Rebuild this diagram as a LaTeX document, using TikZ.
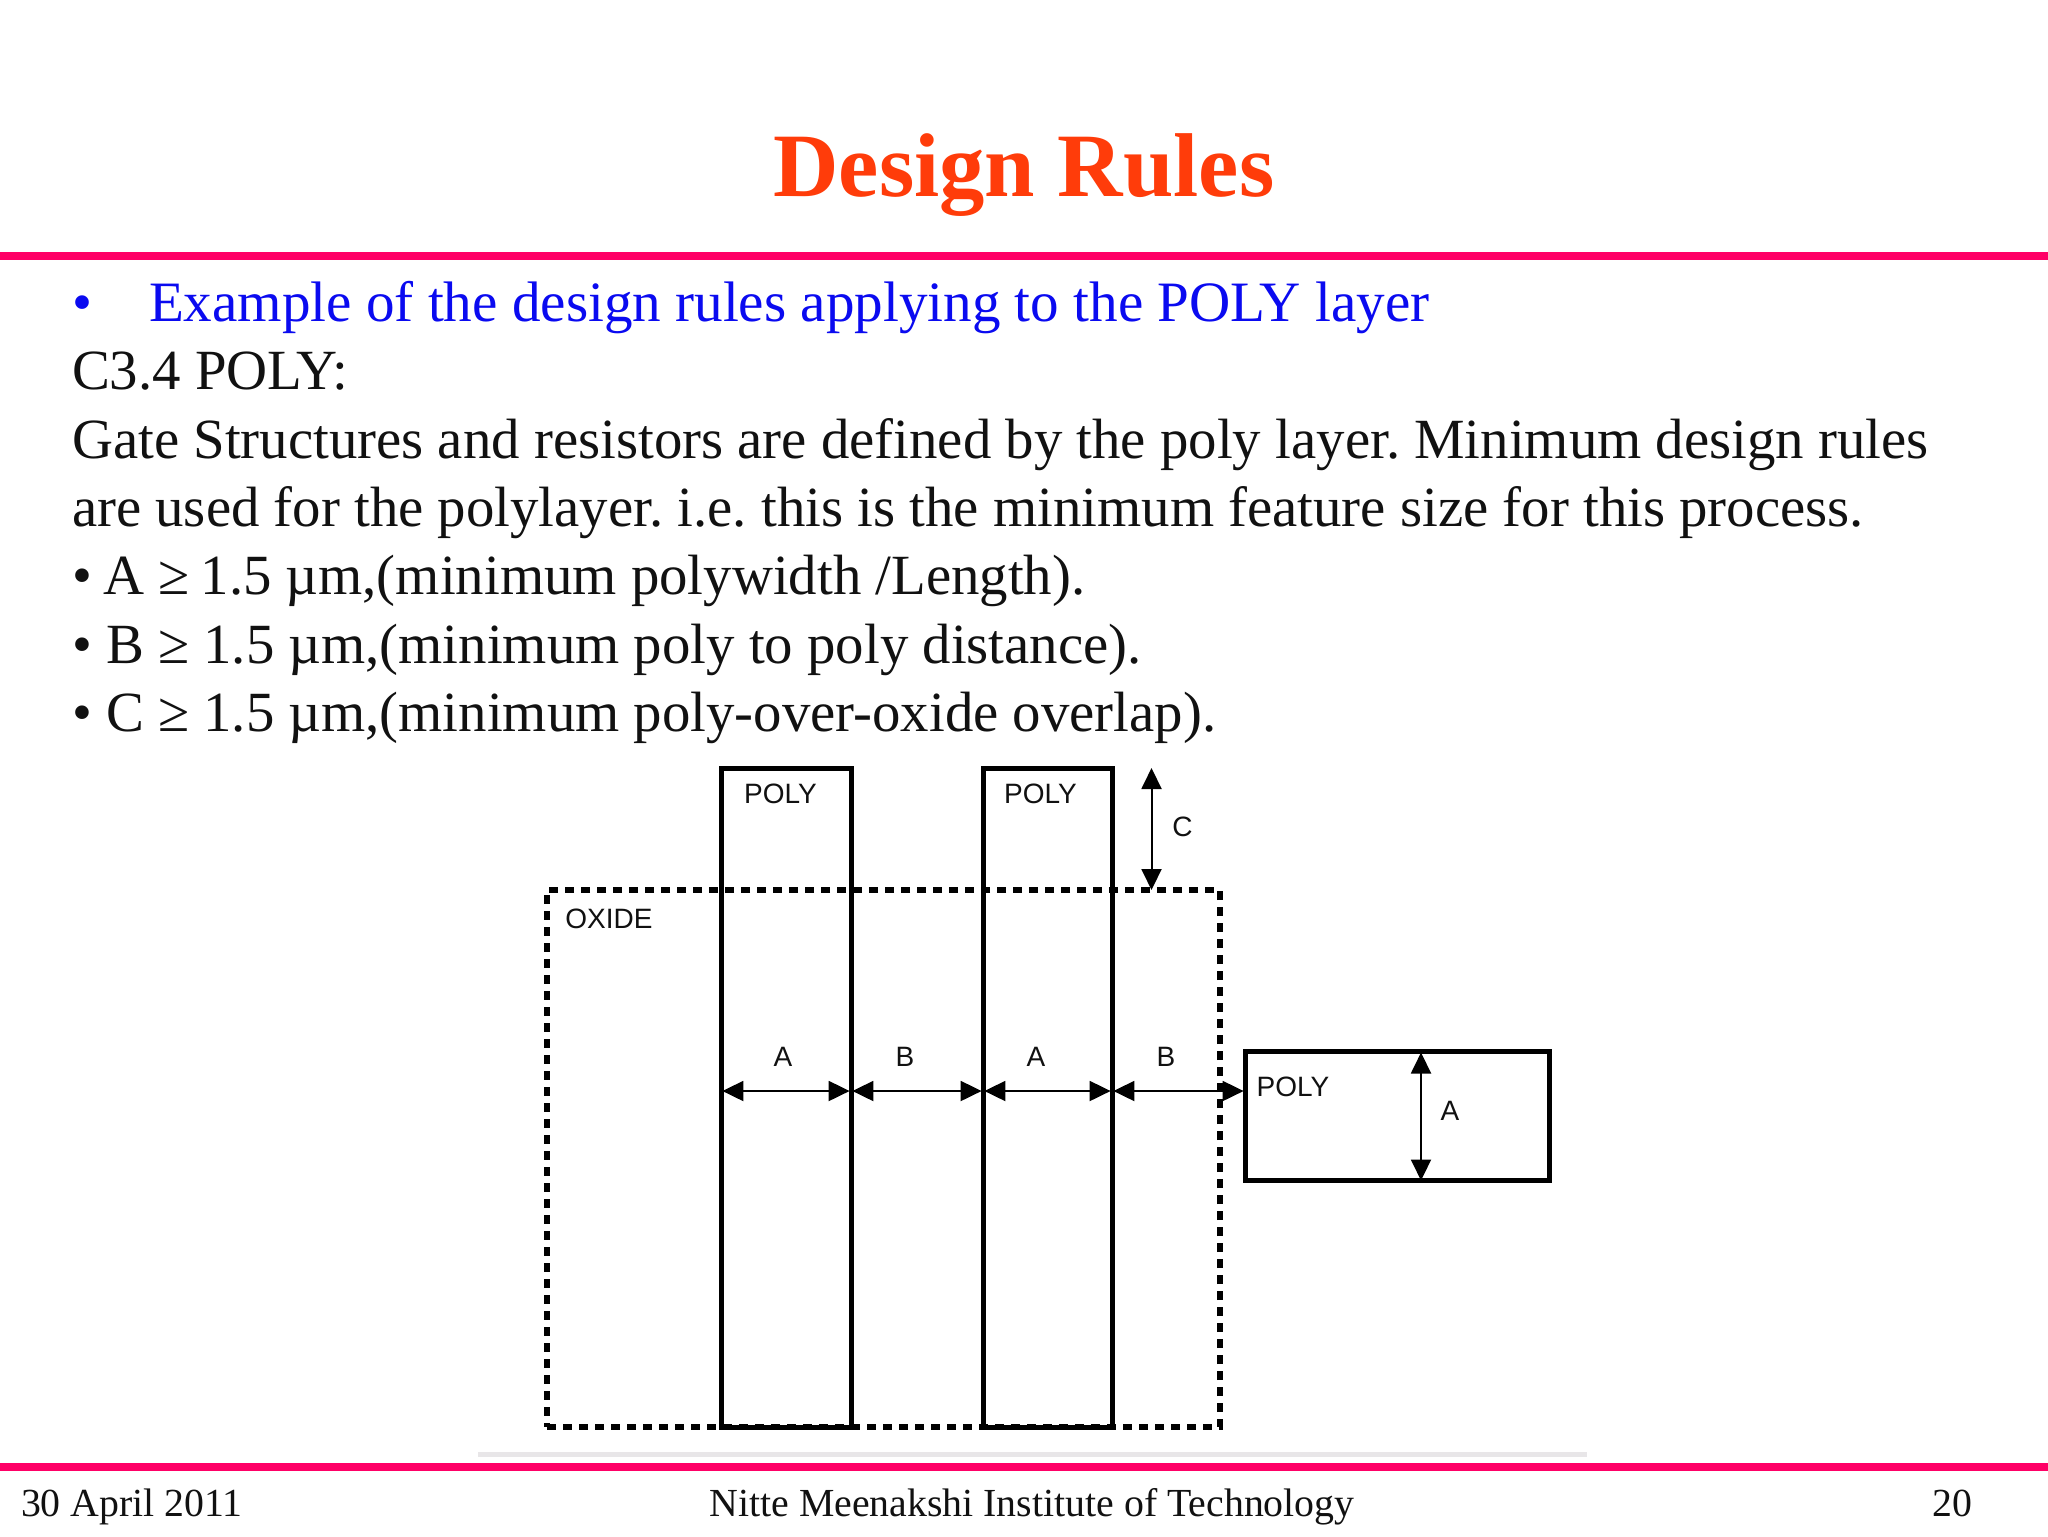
\documentclass[tikz,border=0pt]{standalone}
\usepackage{fontspec}
\setmainfont{Liberation Serif}
\newfontfamily\labelfont{Liberation Sans}
\usetikzlibrary{arrows.meta}
\definecolor{titlered}{HTML}{FF3C0A}
\definecolor{rulepink}{HTML}{FF0066}
\definecolor{bodyblue}{HTML}{0A0AF0}
\definecolor{ink}{HTML}{111111}
\definecolor{faint}{HTML}{E8E6E8}
\tikzset{
  x=0.5pt,y=-0.5pt,
  bodyline/.style={anchor=base west,inner sep=0pt,outer sep=0pt,text=ink,font=\frenchspacing\fontsize{28.4}{34}\selectfont},
  blueline/.style={bodyline,text=bodyblue,font=\frenchspacing\fontsize{28.55}{34}\selectfont},
  footline/.style={inner sep=0pt,outer sep=0pt,text=ink,font=\frenchspacing\fontsize{19.9}{24}\selectfont},
  lbl/.style={inner sep=0pt,outer sep=0pt,text=ink,font=\labelfont\fontsize{14}{16}\selectfont},
  polybox/.style={draw=black,line width=2.5pt,inner sep=0pt,outer sep=0pt},
  oxidebox/.style={draw=black,line width=3pt,dash pattern=on 4.5pt off 3.5pt,inner sep=0pt,outer sep=0pt},
  dimline/.style={draw=black,line width=1pt,{Triangle[length=10.5pt,width=10pt]}-{Triangle[length=10.5pt,width=10pt]},shorten <=0.7pt,shorten >=0.7pt},
  pinkrule/.style={draw=rulepink,line width=4pt},
}
\begin{document}
\begin{tikzpicture}
\useasboundingbox[fill=white] (0,0) rectangle (2048,1536);
% rules
\coordinate (rtl) at (0,256); \coordinate (rtr) at (2048,256);
\coordinate (rbl) at (0,1467); \coordinate (rbr) at (2048,1467);
\coordinate (gl) at (478,1454); \coordinate (gr) at (1587,1454);
\draw[faint,line width=2.5pt] (gl) -- (gr);
\draw[pinkrule] (rtl) -- (rtr);
\draw[pinkrule] (rbl) -- (rbr);
% title
\node[inner sep=0pt,anchor=base,text=titlered,font=\bfseries\fontsize{45.3}{50}\selectfont] (title) at (1024,196) {Design Rules};
% body
\node[blueline] (bul) at (72,321.5) {•};
\node[blueline] (l1) at (149,321.5) {Example of the design rules applying to the POLY layer};
\node[bodyline] (l2) at (72,389.5) {C3.4 POLY:};
\node[bodyline] (l3) at (72,458.5) {Gate Structures and resistors are defined by the poly layer. Minimum design rules};
\node[bodyline] (l4) at (72,526.5) {are used for the polylayer. i.e. this is the minimum feature size for this process.};
\node[bodyline] (l5) at (72,594.5) {• \kern-1.5ptA ≥ \kern-1.5pt1.5 µm,(minimum polywidth /Length).};
\node[bodyline] (l6) at (72,663.5) {• B ≥ 1.5 µm,(minimum poly to poly distance).};
\node[bodyline] (l7) at (72,731.5) {• C ≥ 1.5 µm,(minimum poly-over-oxide overlap).};
% diagram
\node[oxidebox,minimum width=336.5pt,minimum height=268.5pt] (ox) at (883.5,1158.5) {};
\node[polybox,minimum width=65pt,minimum height=329.5pt] (p1) at (786,1097.5) {};
\node[polybox,minimum width=64.5pt,minimum height=329.5pt] (p2) at (1047.5,1097.5) {};
\node[polybox,minimum width=152pt,minimum height=64.5pt] (p3) at (1397,1116) {};
\node[lbl] (tp1) at (780.5,794) {POLY};
\node[lbl] (tp2) at (1040.5,794) {POLY};
\node[lbl] (tp3) at (1293,1087) {POLY};
\node[lbl] (tox) at (609,919) {OXIDE};
\node[lbl] (tc) at (1182.5,827) {C};
\node[lbl] (ta1) at (783,1057) {A};
\node[lbl] (tb1) at (905,1057) {B};
\node[lbl] (ta2) at (1036,1057) {A};
\node[lbl] (tb2) at (1166,1057) {B};
\node[lbl] (ta3) at (1450,1111) {A};
\coordinate (ay) at (0,1091);
\coordinate (cx) at (1151.5,0);
\coordinate (vx) at (1421,0);
\draw[dimline] (p1.west |- ay) -- (p1.east |- ay);
\draw[dimline] (p1.east |- ay) -- (p2.west |- ay);
\draw[dimline] (p2.west |- ay) -- (p2.east |- ay);
\draw[dimline] (p2.east |- ay) -- (p3.west |- ay);
\draw[dimline,shorten <=0pt,shorten >=0pt] (cx |- p1.north) -- (cx |- ox.north);
\draw[dimline,shorten <=0.5pt,shorten >=0pt] (vx |- p3.north) -- (vx |- p3.south);
% footer
\node[footline,anchor=base west] (fd) at (21,1516.5) {30 April 2011};
\node[footline,anchor=base] (fi) at (1032,1516.5) {Nitte Meenakshi Institute of Technology};
\node[footline,anchor=base east] (fn) at (1972,1516.5) {20};
\end{tikzpicture}
\end{document}
